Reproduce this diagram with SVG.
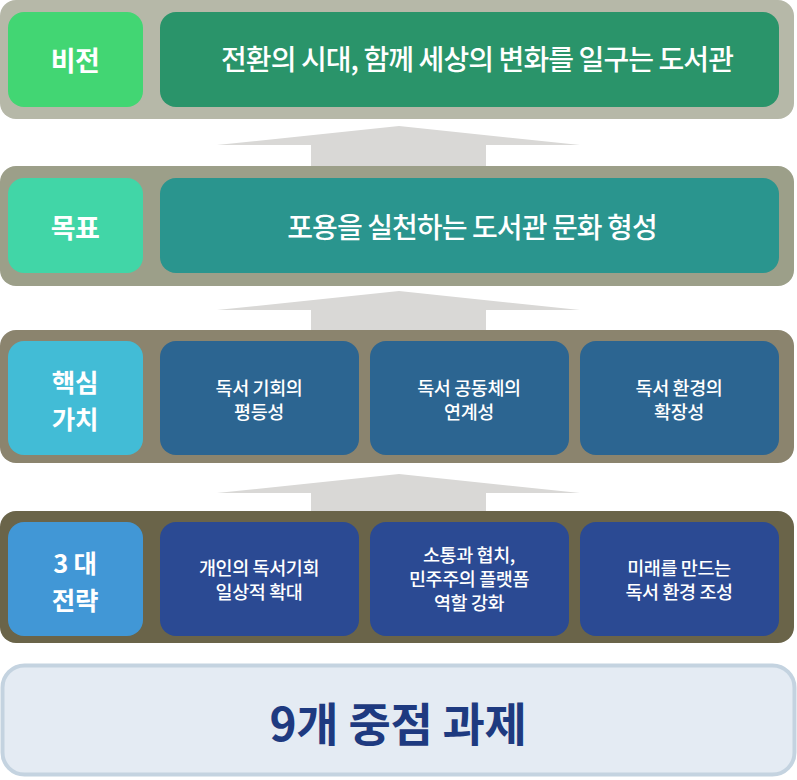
<svg xmlns="http://www.w3.org/2000/svg" width="797" height="780" viewBox="0 0 797 780">
<style>
text{font-family:"Noto Sans CJK KR","Noto Sans",sans-serif;fill:#ffffff;text-anchor:middle;dominant-baseline:central}
.lbl{font-size:27px;font-weight:700;letter-spacing:-0.5px}
.lbl2{font-size:25.5px;font-weight:700;letter-spacing:-0.3px}
.big{font-size:28px;font-weight:500;letter-spacing:-0.9px}
.sm{font-size:18.5px;font-weight:500;letter-spacing:-0.4px}
.arrow{fill:#d9d8d6}
.title{font-size:46px;font-weight:700;fill:#1e3a80;letter-spacing:-0.3px}
</style>
<rect width="797" height="780" fill="#ffffff"/>
<g id="connectors">
<polygon class="arrow" points="399,126 580,145 486,145 486,166 311,166 311,145 217,145"/>
<polygon class="arrow" points="399,291 580,310 486,310 486,330 311,330 311,310 217,310"/>
<polygon class="arrow" points="399,474 580,493 486,493 486,511 311,511 311,493 217,493"/>
</g>
<g id="band-vision">
<rect x="0" y="0" width="794" height="119" rx="16" fill="#b6b8a8"/>
<rect x="8" y="12" width="135" height="95" rx="16" fill="#42d673"/>
<text class="lbl" x="75" y="59">비전</text>
<rect x="160" y="12" width="619" height="95" rx="16" fill="#2a946a"/>
<text class="big" x="477" y="58">전환의 시대, 함께 세상의 변화를 일구는 도서관</text>
</g>
<g id="band-goal">
<rect x="0" y="166" width="794" height="120" rx="16" fill="#9c9f89"/>
<rect x="8" y="178" width="135" height="95" rx="16" fill="#41d6a7"/>
<text class="lbl" x="75" y="226">목표</text>
<rect x="160" y="178" width="619" height="95" rx="16" fill="#2a958e"/>
<text class="big" x="472" y="226">포용을 실천하는 도서관 문화 형성</text>
</g>
<g id="band-values">
<rect x="0" y="330" width="794" height="133" rx="16" fill="#8b846e"/>
<rect x="8" y="341" width="135" height="114" rx="16" fill="#42bcd6"/>
<text class="lbl2"><tspan x="75" y="380">핵심</tspan><tspan x="75" y="417">가치</tspan></text>
<g id="value-1">
<rect x="160" y="341" width="199" height="114" rx="16" fill="#2c6591"/>
<text class="sm"><tspan x="259" y="387">독서 기회의</tspan><tspan x="259" y="411">평등성</tspan></text>
</g>
<g id="value-2">
<rect x="370" y="341" width="199" height="114" rx="16" fill="#2c6591"/>
<text class="sm"><tspan x="469" y="387">독서 공동체의</tspan><tspan x="469" y="411">연계성</tspan></text>
</g>
<g id="value-3">
<rect x="580" y="341" width="199" height="114" rx="16" fill="#2c6591"/>
<text class="sm"><tspan x="679" y="387">독서 환경의</tspan><tspan x="679" y="411">확장성</tspan></text>
</g>
</g>
<g id="band-strategy">
<rect x="0" y="511" width="794" height="132" rx="16" fill="#6a6449"/>
<rect x="8" y="522" width="135" height="114" rx="16" fill="#4197d6"/>
<text class="lbl2"><tspan x="75" y="561">3 대</tspan><tspan x="75" y="598">전략</tspan></text>
<g id="strategy-1">
<rect x="160" y="522" width="199" height="114" rx="16" fill="#2b4a93"/>
<text class="sm"><tspan x="259" y="567">개인의 독서기회</tspan><tspan x="259" y="591">일상적 확대</tspan></text>
</g>
<g id="strategy-2">
<rect x="370" y="522" width="199" height="114" rx="16" fill="#2b4a93"/>
<text class="sm"><tspan x="469" y="554">소통과 협치,</tspan><tspan x="469" y="578">민주주의 플랫폼</tspan><tspan x="469" y="602">역할 강화</tspan></text>
</g>
<g id="strategy-3">
<rect x="580" y="522" width="199" height="114" rx="16" fill="#2b4a93"/>
<text class="sm"><tspan x="679" y="567">미래를 만드는</tspan><tspan x="679" y="591">독서 환경 조성</tspan></text>
</g>
</g>
<g id="tasks">
<rect x="2.5" y="665.5" width="792" height="109" rx="22" fill="#e4ebf3" stroke="#c4d3e0" stroke-width="4"/>
<text class="title" x="398" y="721">9개 중점 과제</text>
</g>
</svg>
